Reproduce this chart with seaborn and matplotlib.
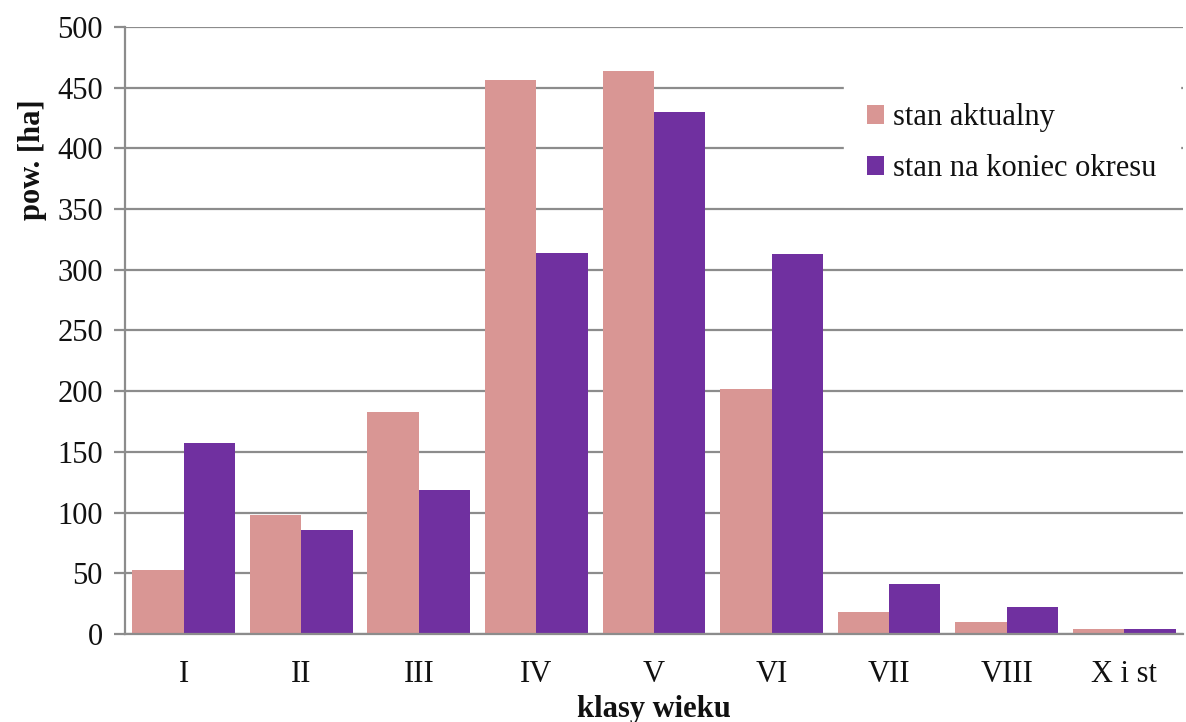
import matplotlib
matplotlib.use("Agg")
import matplotlib.pyplot as plt
import seaborn as sns
import pandas as pd
import numpy as np

categories = ["I", "II", "III", "IV", "V", "VI", "VII", "VIII", "X i st"]
stan_aktualny = [53, 98, 183, 456, 464, 202, 18, 10, 4]
stan_koniec = [157, 86, 119, 314, 430, 313, 41.5, 22.5, 4]
series_names = ["stan aktualny", "stan na koniec okresu"]
colors = ["#D99694", "#7030A0"]

df = pd.DataFrame({
    "klasa": categories * 2,
    "pow": stan_aktualny + stan_koniec,
    "seria": [series_names[0]] * len(categories) + [series_names[1]] * len(categories),
})

sns.set_theme(style="white")
plt.rcParams["font.family"] = ["Liberation Serif", "DejaVu Serif"]

fig = plt.figure(figsize=(11.86, 7.22), dpi=100)
ax = fig.add_axes([0.1054, 0.1219, 0.892, 0.8407])

sns.barplot(data=df, x="klasa", y="pow", hue="seria", order=categories,
            hue_order=series_names, palette=colors, width=0.875, gap=0,
            saturation=1, linewidth=0, ax=ax, legend=True)

grid_c = "#8C8C8C"
text_c = "#111111"
ax.set_ylim(0, 500)
ax.set_xlim(-0.5, len(categories) - 0.5)
ax.set_yticks(np.arange(0, 501, 50))
ax.yaxis.grid(True, color=grid_c, linewidth=1.6)
ax.set_axisbelow(True)

# category boundary ticks on the x axis
ax.set_xticks(np.arange(-0.5, len(categories), 1.0), minor=True)
ax.tick_params(axis="x", which="major", length=0, pad=19, labelsize=22, colors=text_c)
ax.tick_params(axis="x", which="minor", length=8, width=1.6, color=grid_c, direction="out")
ax.tick_params(axis="y", which="major", length=8, width=1.6, color=grid_c, direction="out",
               labelsize=22, pad=8, left=True, labelcolor=text_c)

for side in ["top", "right"]:
    ax.spines[side].set_visible(False)
for side in ["left", "bottom"]:
    ax.spines[side].set_color(grid_c)
    ax.spines[side].set_linewidth(1.6)

ax.set_ylabel("pow. [ha]", fontsize=22, fontweight="bold", color=text_c)
ax.yaxis.set_label_coords(-0.074, 0.781)
ax.set_xlabel("klasy wieku", fontsize=22, fontweight="bold", color=text_c)
ax.xaxis.set_label_coords(0.5, -0.1)

leg = ax.legend(loc="upper left", bbox_to_anchor=(0.68, 0.912), frameon=True,
                fontsize=22, handlelength=0.55, handleheight=0.55, handletextpad=0.3,
                labelspacing=0.72, borderpad=0.75, borderaxespad=0, fancybox=False)
leg.get_frame().set_facecolor("white")
leg.get_frame().set_edgecolor("white")
leg.get_frame().set_alpha(1)
for t in leg.get_texts():
    t.set_color(text_c)

fig.savefig("out.png", dpi=100, facecolor="white")
